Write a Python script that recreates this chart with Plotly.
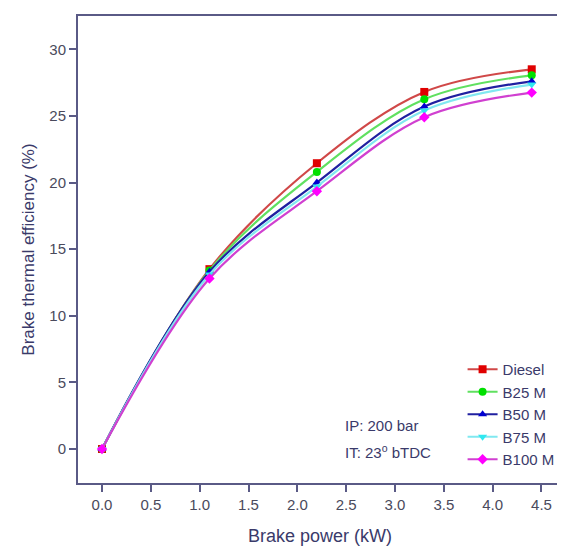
import plotly.graph_objects as go

power = [0.0, 1.1, 2.2, 3.3, 4.4]
series_names = ["Diesel", "B25 M", "B50 M", "B75 M", "B100 M"]
diesel = [0.0, 13.5, 21.45, 26.8, 28.5]
b25 = [0.0, 13.4, 20.8, 26.25, 28.05]
b50 = [0.0, 13.3, 20.0, 25.7, 27.6]
b75 = [0.0, 13.1, 19.7, 25.4, 27.35]
b100 = [0.0, 12.8, 19.35, 24.9, 26.75]
x_ticks = [0.0, 0.5, 1.0, 1.5, 2.0, 2.5, 3.0, 3.5, 4.0, 4.5]
y_ticks = [0, 5, 10, 15, 20, 25, 30]

values = [diesel, b25, b50, b75, b100]
line_colors = ["#d04848", "#60e060", "#2020a0", "#80e8f0", "#d040d0"]
marker_colors = ["#e00000", "#00e000", "#0000d0", "#30e8f0", "#ff00ff"]
symbols = ["square", "circle", "triangle-up", "triangle-down", "diamond"]

fig = go.Figure()
for name, v, lc, mc, s in zip(series_names, values, line_colors, marker_colors, symbols):
    fig.add_trace(go.Scatter(
        x=power, y=v, name=name, mode="lines+markers",
        line=dict(color=lc, width=2.2, shape="spline", smoothing=1.0),
        marker=dict(color=mc, symbol=s, size=8),
    ))

axis_color = "#5a5a86"
title_color = "#3a3a6a"
fig.update_layout(
    width=565, height=547,
    margin=dict(l=70, r=11, t=8, b=72),
    plot_bgcolor="white", paper_bgcolor="white",
    font=dict(family="Liberation Sans, Arial, sans-serif", color="#4a4a5c", size=15),
    showlegend=True,
    legend=dict(x=0.995, y=0.015, xanchor="right", yanchor="bottom",
                bgcolor="rgba(0,0,0,0)", font=dict(size=15, color=title_color),
                tracegroupgap=0),
    xaxis=dict(range=[-0.246, 4.71], tickvals=x_ticks,
               ticktext=[f"{t:.1f}" for t in x_ticks],
               showgrid=False, zeroline=False, showline=True, linecolor=axis_color,
               linewidth=2, mirror=True, ticks="outside", ticklen=7, tickcolor=axis_color,
               tickwidth=1.5, automargin=False,
               title=dict(text="Brake power (kW)", font=dict(size=18, color=title_color),
                          standoff=17)),
    yaxis=dict(range=[-2.55, 32.5], tickvals=y_ticks,
               showgrid=False, zeroline=False, showline=True, linecolor=axis_color,
               linewidth=2, mirror=True, ticks="outside", ticklen=7, tickcolor=axis_color,
               tickwidth=1.5, automargin=False,
               title=dict(text="Brake thermal efficiency (%)", font=dict(size=17, color=title_color),
                          standoff=10)),
    annotations=[
        dict(x=0.548, y=0.124, xref="paper", yref="paper", xanchor="left", yanchor="middle",
             text="IP: 200 bar", showarrow=False, font=dict(size=15, color=title_color)),
        dict(x=0.548, y=0.068, xref="paper", yref="paper", xanchor="left", yanchor="middle",
             text="IT: 23<sup>o</sup> bTDC", showarrow=False, font=dict(size=15, color=title_color)),
    ],
)

fig.write_html("out.html")
